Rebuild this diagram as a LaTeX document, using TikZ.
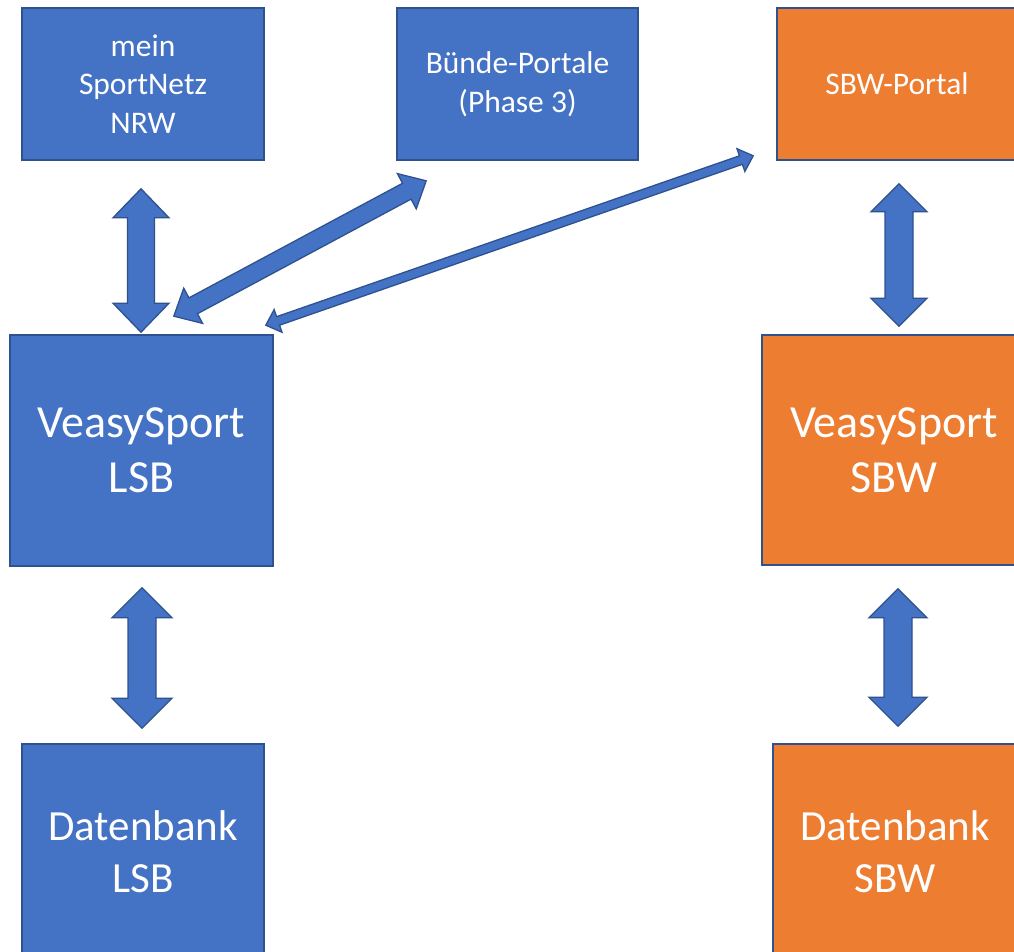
\documentclass[tikz,border=0pt]{standalone}
\usepackage{fontspec}
\setmainfont{Carlito}
\usetikzlibrary{calc}
\definecolor{oblue}{HTML}{4472C4}
\definecolor{oborder}{HTML}{2F528F}
\definecolor{oorange}{HTML}{ED7D31}
\newcommand\dblarr[5]{%
  \coordinate (da1) at ($(#1)!#5!(#2)$);
  \coordinate (da2) at ($(#2)!#5!(#1)$);
  \filldraw[blockarr] (#1) -- ($(da1)!#4!90:(#2)$) -- ($(da1)!#3!90:(#2)$)
    -- ($(da2)!#3!-90:(#1)$) -- ($(da2)!#4!-90:(#1)$) -- (#2)
    -- ($(da2)!#4!90:(#1)$) -- ($(da2)!#3!90:(#1)$)
    -- ($(da1)!#3!-90:(#2)$) -- ($(da1)!#4!-90:(#2)$) -- cycle;
}
\tikzset{
  box/.style={draw=oborder, line width=1.6pt, fill=oblue, text=white,
    align=center, inner sep=0pt, rectangle},
  obox/.style={box, fill=oorange},
  small/.style={font=\fontsize{31.5}{38.5}\selectfont},
  big/.style={font=\fontsize{46}{55}\selectfont},
  mid/.style={font=\fontsize{43}{52}\selectfont},
  blockarr/.style={fill=oblue, draw=oborder, line width=1.3pt, line join=miter},
}
\begin{document}
\begin{tikzpicture}[x=1pt, y=-1pt]
\useasboundingbox (0,0) rectangle (1014,952);
\clip (0,0) rectangle (1014,952);
\fill[white] (0,0) rectangle (1014,952);
% boxes
\node[box, small, minimum width=242pt, minimum height=152pt] (nrw) at (143,84) {mein\\SportNetz\\NRW};
\node[box, small, minimum width=241pt, minimum height=152pt] (buende) at (517.5,84) {Bünde-Portale\\(Phase 3)};
\node[obox, small, minimum width=240pt, minimum height=152pt] (sbwp) at (897,84) {SBW-Portal};
\node[box, big, minimum width=263pt, minimum height=231pt] (vlsb) at (141.5,450.5) {VeasySport\\LSB};
\node[obox, big, minimum width=264pt, minimum height=230pt] (vsbw) at (894,450) {VeasySport\\SBW};
\node[box, mid, minimum width=242pt, minimum height=216pt] (dlsb) at (143,852) {Datenbank\\LSB};
\node[obox, mid, minimum width=244pt, minimum height=216pt] (dsbw) at (895,852) {Datenbank\\SBW};
% arrow ends
\coordinate (a1t) at ($(nrw.south)+(-2,28)$);
\coordinate (a1b) at ($(vlsb.north)+(-0.5,-2)$);
\coordinate (a2t) at ($(sbwp.south)+(2,23)$);
\coordinate (a2b) at ($(vsbw.north)+(5,-8)$);
\coordinate (a3t) at ($(vlsb.south)+(0.5,21)$);
\coordinate (a3b) at ($(dlsb.north)+(-1,-15)$);
\coordinate (a4t) at ($(vsbw.south)+(4,23)$);
\coordinate (a4b) at ($(dsbw.north)+(3,-17)$);
\coordinate (d1a) at ($(vlsb.north east)+(-100,-18)$);
\coordinate (d1b) at ($(buende.south west)+(30,20)$);
\coordinate (d2a) at ($(vlsb.north east)+(-8,-9)$);
\coordinate (d2b) at ($(sbwp.south west)+(-23,-5)$);
% arrows
\dblarr{a1t}{a1b}{13.5pt}{28pt}{29pt}
\dblarr{a2t}{a2b}{14pt}{28pt}{28pt}
\dblarr{a3t}{a3b}{14pt}{30pt}{30pt}
\dblarr{a4t}{a4b}{14pt}{29pt}{29pt}
\dblarr{d1a}{d1b}{9pt}{20pt}{22pt}
\dblarr{d2a}{d2b}{4.5pt}{12pt}{13pt}
\end{tikzpicture}
\end{document}
